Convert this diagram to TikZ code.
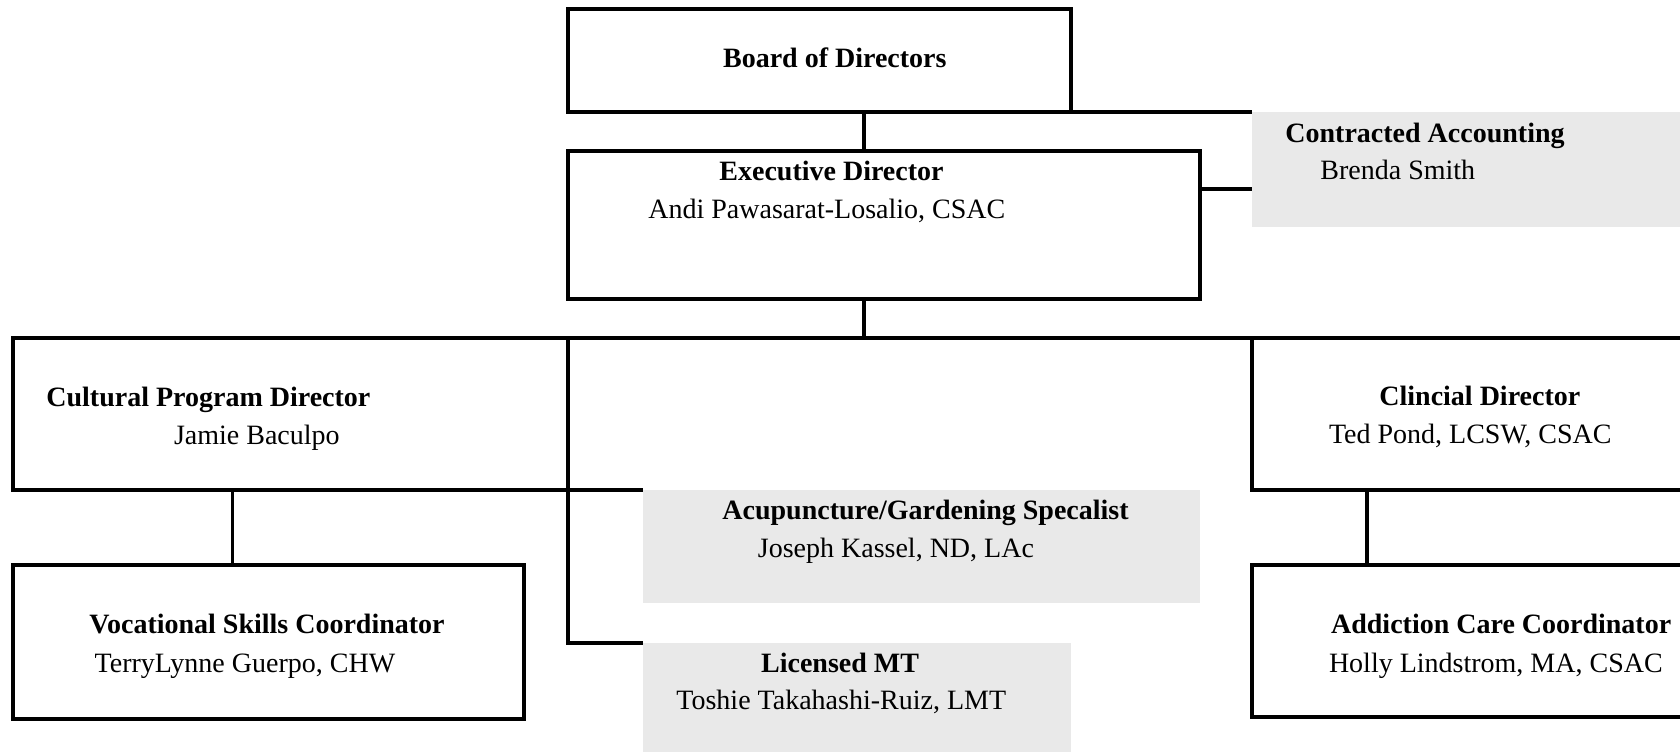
\documentclass[tikz,border=0pt]{standalone}
\usepackage{fontspec}
\setmainfont{Liberation Serif}
\definecolor{shade}{RGB}{233,233,233}
\begin{document}
\begin{tikzpicture}[x=0.5pt,y=-0.5pt,
  box/.style={draw=black,line width=1.6pt,fill=white,inner sep=0pt,outer sep=0pt},
  gbox/.style={draw=none,fill=shade,inner sep=0pt,outer sep=0pt},
  link/.style={draw=black,line width=1.6pt},
  ttl/.style={anchor=base west,inner sep=0pt,font=\fontsize{14}{17}\selectfont\bfseries},
  nm/.style={anchor=base west,inner sep=0pt,font=\fontsize{14}{17}\selectfont}]
\useasboundingbox (0,0) rectangle (1680,751);
\clip (0,0) rectangle (1680,751);
% boxes
\node[box,minimum width=251.5pt,minimum height=51.5pt] (board) at (819.5,60.5) {};
\node[box,minimum width=316pt,minimum height=74pt] (exec) at (884,225) {};
\node[gbox,minimum width=224pt,minimum height=57.5pt] (contracted) at (1476,169.5) {};
\node[box,minimum width=277.5pt,minimum height=76pt] (cultural) at (290.5,414) {};
\node[box,minimum width=224pt,minimum height=76pt] (clinical) at (1476,414) {};
\node[box,minimum width=255.5pt,minimum height=77pt] (vocational) at (268.5,642) {};
\node[gbox,minimum width=278.5pt,minimum height=56.5pt] (acup) at (921.5,546.5) {};
\node[gbox,minimum width=214pt,minimum height=58.5pt] (licensed) at (857,701.5) {};
\node[box,minimum width=224pt,minimum height=76pt] (addiction) at (1476,641) {};
% helper coordinates
\coordinate (sp) at (864,0);
\coordinate (ya) at (0,189);
\coordinate (vx) at (232.5,0);
\coordinate (cx) at (1367,0);
% connectors
\draw[link] (sp |- board.south) -- (sp |- exec.north);
\draw[link] (board.south east) -- (contracted.north west);
\draw[link] (exec.east |- ya) -- (contracted.west |- ya);
\draw[link] (sp |- exec.south) -- (sp |- cultural.north);
\draw[link] (cultural.north east) -- (clinical.north west);
\draw[link] (cultural.south east) -- (acup.north west);
\draw[link] (cultural.north east) |- (licensed.north west);
\draw[link] (vx |- cultural.south) -- (vx |- vocational.north);
\draw[link] (cx |- clinical.south) -- (cx |- addiction.north);
% texts
\node[ttl] (t1) at (722.7,67.7) {Board of Directors};
\node[ttl] (t2) at (719,180.5) {Executive Director};
\node[nm]  (n2) at (648,218) {Andi Pawasarat-Losalio, CSAC};
\node[ttl] (t3) at (1285,142.5) {Contracted Accounting};
\node[nm]  (n3) at (1320,179) {Brenda Smith};
\node[ttl] (t4) at (46,406.5) {Cultural Program Director};
\node[nm]  (n4) at (173.6,444) {Jamie Baculpo};
\node[ttl] (t5) at (1379,405.5) {Clincial Director};
\node[nm]  (n5) at (1328.6,443) {Ted Pond, LCSW, CSAC};
\node[ttl] (t6) at (722,519) {Acupuncture/Gardening Specalist};
\node[nm]  (n6) at (757.5,557) {Joseph Kassel, ND, LAc};
\node[ttl] (t7) at (760.7,672) {Licensed MT};
\node[nm]  (n7) at (676,709.5) {Toshie Takahashi-Ruiz, LMT};
\node[ttl] (t8) at (89,633.5) {Vocational Skills Coordinator};
\node[nm]  (n8) at (94.3,672) {TerryLynne Guerpo, CHW};
\node[ttl] (t9) at (1330.7,633.5) {Addiction Care Coordinator};
\node[nm]  (n9) at (1328.6,672) {Holly Lindstrom, MA, CSAC};
\end{tikzpicture}
\end{document}
